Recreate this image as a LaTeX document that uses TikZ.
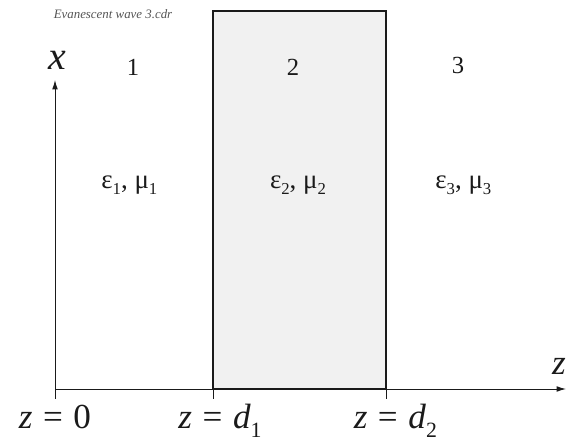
\documentclass[tikz,border=0pt]{standalone}
\usepackage{fontspec}
\setmainfont{Liberation Serif}
\usepackage{tikz}
\usetikzlibrary{arrows.meta,positioning,calc}
\definecolor{ink}      {HTML}{1A1A1A}
\definecolor{slabgray} {HTML}{F1F1F1}
\definecolor{notegray} {HTML}{555555}
\newcommand{\lsub}[1]{\raisebox{-0.24em}{\scalebox{0.62}{#1}}}
\newcommand{\eqsp}{\hspace{0.3em}=\hspace{0.3em}}
\tikzset{
  axisarr/.style  ={-{Latex[length=2.8mm,width=1.7mm]}, line width=0.8pt, draw=ink},
  ticklin/.style  ={line width=0.8pt, draw=ink},
  slab/.style     ={draw=ink, fill=slabgray, line width=1.6pt},
  regionlbl/.style={font=\fontsize{21}{24}\selectfont, text=ink, inner sep=0pt},
  medlbl/.style   ={font=\fontsize{23}{26}\selectfont, text=ink, inner sep=0pt},
  poslbl/.style   ={font=\fontsize{30}{34}\selectfont, text=ink, inner sep=0pt, anchor=base},
  axislbl/.style  ={font=\fontsize{34}{38}\selectfont\itshape, text=ink, inner sep=0pt},
}

\begin{document}
\begin{tikzpicture}[x=1cm,y=1cm]
    \useasboundingbox (0,0) rectangle (17.01,13.23);

    \coordinate (O)   at (1.65,1.56);
    \coordinate (xend) at (1.65,10.83);
    \coordinate (zend) at (16.98,1.56);
    \coordinate (d1)  at (6.39,1.56);
    \coordinate (d2)  at (11.58,1.56);
    \coordinate (top2) at (11.58,12.90);

    % slab 2
    \draw[slab] (d1) rectangle (top2);

    % axes
    \draw[axisarr] (O) -- (xend);
    \draw[axisarr] (O) -- (zend);
    \draw[ticklin] (O)  -- ++(0,-0.30);
    \draw[ticklin] (d1) -- ++(0,-0.30);
    \draw[ticklin] (d2) -- ++(0,-0.30);

    \node[axislbl] (xlbl) at (1.71,11.43) {x};
    \node[poslbl,anchor=east] (zlbl) at (16.98,2.24) {\textit{z}};

    \node[font=\fontsize{11}{12}\selectfont\itshape,text=notegray] (note) at (3.39,12.81) {Evanescent wave 3.cdr};

    \node[regionlbl] (r1) at (3.99,11.22) {1};
    \node[regionlbl] (r2) at (8.79,11.22) {2};
    \node[regionlbl] (r3) at (13.74,11.26) {3};

    \node[medlbl] (m1) at (3.88,7.68) {ε\lsub{1}, μ\lsub{1}};
    \node[medlbl] (m2) at (8.94,7.68) {ε\lsub{2}, μ\lsub{2}};
    \node[medlbl] (m3) at (13.90,7.68) {ε\lsub{3}, μ\lsub{3}};

    \node[poslbl] (p0) at (1.65,0.36) {\textit{z}\eqsp0};
    \node[poslbl] (p1) at (6.60,0.36) {\textit{z}\eqsp\textit{d}\lsub{1}};
    \node[poslbl] (p2) at (11.86,0.36) {\textit{z}\eqsp\textit{d}\lsub{2}};
  \end{tikzpicture}
\end{document}
